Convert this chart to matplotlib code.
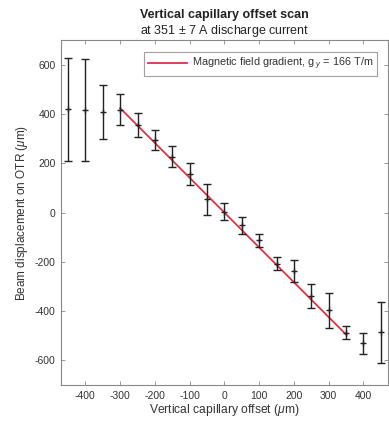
import numpy as np
import matplotlib
matplotlib.use("Agg")
import matplotlib.pyplot as plt

plt.rcParams['font.family'] = ['Liberation Sans', 'DejaVu Sans']
plt.rcParams['mathtext.fontset'] = 'custom'
plt.rcParams['mathtext.rm'] = 'Liberation Sans'
plt.rcParams['mathtext.it'] = 'Liberation Sans:italic'
plt.rcParams['axes.unicode_minus'] = False

# Scan data: capillary offset (um) vs. beam displacement on OTR (um)
offset = [-450, -400, -350, -300, -250, -200, -150, -100, -50, 0,
          50, 100, 150, 200, 250, 300, 350, 400, 450]
displacement = [420, 418, 408, 418, 356, 295, 228, 157, 54, 4,
                -52, -112, -208, -236, -340, -397, -487, -531, -486]
displacement_err = [210, 208, 110, 63, 50, 42, 44, 43, 64, 34,
                    35, 26, 26, 44, 49, 72, 27, 43, 124]

# Linear fit over the central range
fit_range = [-300, 350]
fit_slope = -1.415
fit_intercept = 0.0
fit_label = r'Magnetic field gradient, g$_{\ y}$ = 166 T/m'

fig = plt.figure(figsize=(3.89, 4.24), dpi=100)
ax = fig.add_axes([0.157, 0.092, 0.84, 0.814])

fx = np.array(fit_range, dtype=float)
ax.plot(fx, fit_intercept + fit_slope * fx, color='#dd3344', lw=1.3,
        label=fit_label, zorder=2)
ax.errorbar(offset, displacement, yerr=displacement_err, fmt='+', color='#222222',
            ms=5, mew=1.0, elinewidth=1.0, capsize=3, capthick=1.0, zorder=3)

ax.set_xlim(-470, 470)
ax.set_ylim(-700, 702)
ax.set_xticks([-400, -300, -200, -100, 0, 100, 200, 300, 400])
ax.set_yticks([-600, -400, -200, 0, 200, 400, 600])

for s in ax.spines.values():
    s.set_color('#888888')
    s.set_linewidth(0.8)
ax.tick_params(direction='in', length=3, width=0.6, color='#888888',
               labelsize=7.5, labelcolor='#333333', top=True, right=True, pad=4)

ax.set_xlabel(r'Vertical capillary offset ($\mu$m)', fontsize=8.7, color='#333333', labelpad=1)
ax.set_ylabel(r'Beam displacement on OTR ($\mu$m)', fontsize=8.5, color='#333333', labelpad=3)

fig.text(0.577, 0.965, 'Vertical capillary offset scan', ha='center', va='center',
         fontsize=9, fontweight='bold', color='#222222')
fig.text(0.577, 0.926, r'at 351 $\pm$ 7 A discharge current', ha='center', va='center',
         fontsize=9, color='#222222')

leg = ax.legend(loc='upper right', bbox_to_anchor=(0.966, 0.965), fontsize=7.8,
                frameon=True, fancybox=False, handlelength=3.6, borderpad=0.35,
                handletextpad=0.4, borderaxespad=0.0)
leg.get_frame().set_edgecolor('#888888')
leg.get_frame().set_linewidth(0.8)
for t in leg.get_texts():
    t.set_color('#333333')

fig.savefig('out.png', dpi=100)
